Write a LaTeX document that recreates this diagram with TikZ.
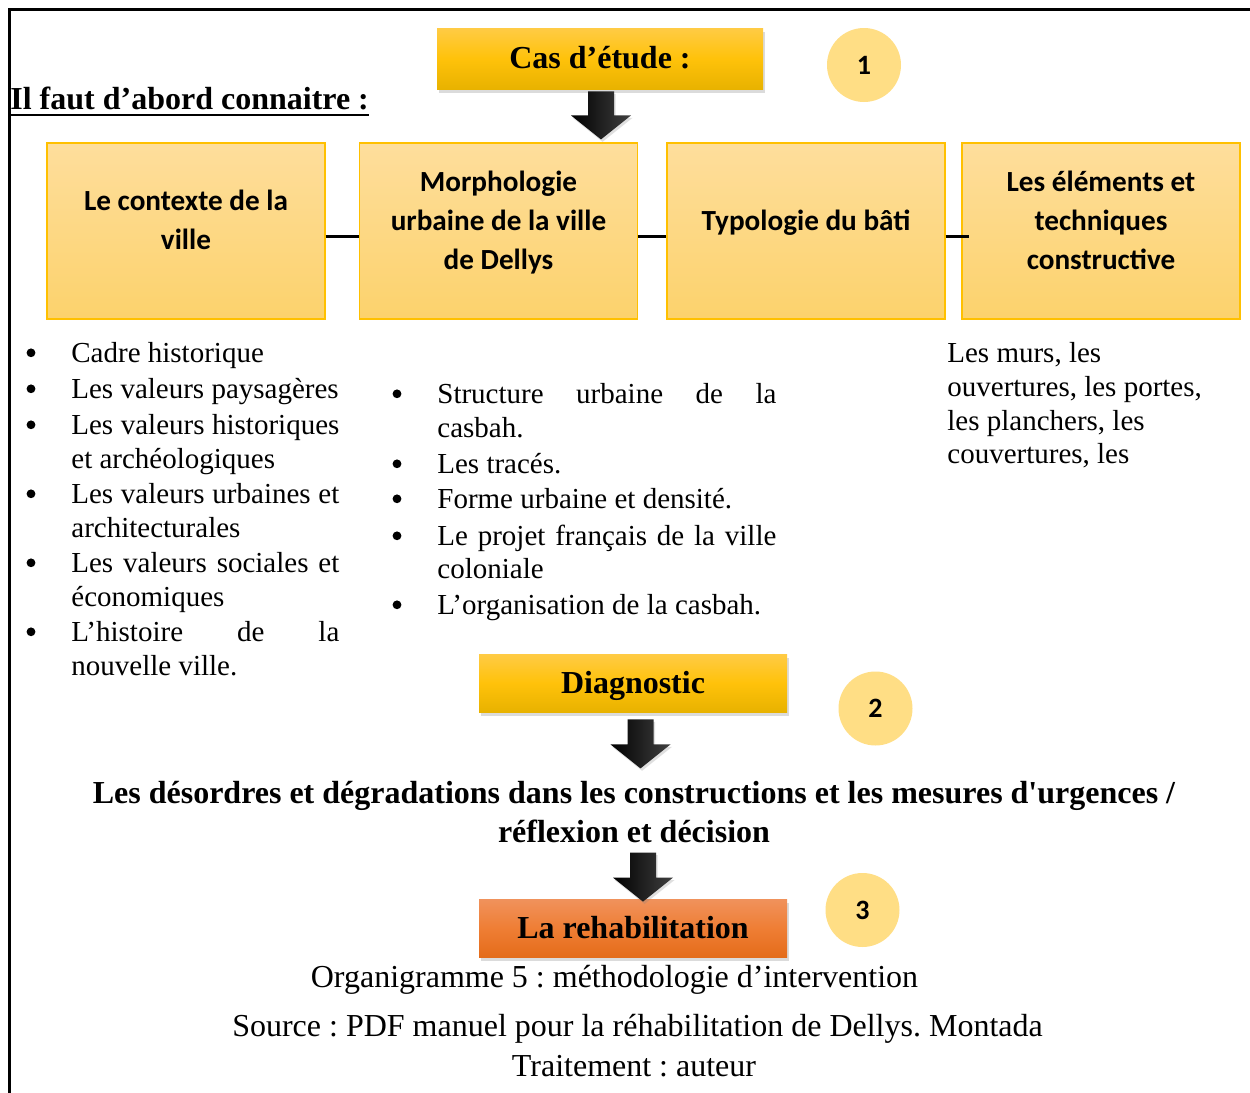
\documentclass[tikz,border=0pt]{standalone}
\usepackage{fontspec}
\setmainfont{Liberation Serif}
\newfontfamily\calib{Carlito}
\usetikzlibrary{calc,shadows}
\frenchspacing
\definecolor{ytop}{HTML}{FFCB45}
\definecolor{ymid}{HTML}{FFC20A}
\definecolor{ybot}{HTML}{E8B200}
\definecolor{otop}{HTML}{F0925C}
\definecolor{omid}{HTML}{EF7E35}
\definecolor{obot}{HTML}{E46C1A}
\definecolor{cattop}{HTML}{FEDE9C}
\definecolor{catbot}{HTML}{FCD26C}
\definecolor{catedge}{HTML}{FFC000}
\definecolor{numfill}{HTML}{FFDE85}
\newcommand\myul[1]{\setbox0\hbox{#1}\rlap{\rule[-3.5pt]{\wd0}{1.1pt}}\box0}
\newcommand\blockarrow[2]{%
  \path[arrowsh] let \p1=(#1), \p2=(#2) in
  (\x1-6.5pt,\y1) -- (\x1+6.5pt,\y1) -- (\x1+6.5pt,\y2+12pt) -- (\x1+15pt,\y2+12pt)
  -- (\x1,\y2) -- (\x1-15pt,\y2+12pt) -- (\x1-6.5pt,\y2+12pt) -- cycle;}
\begin{document}
\begin{tikzpicture}[x=0.5pt,y=-0.5pt,
  frameline/.style={line width=1.5pt},
  topbox/.style={minimum width=154pt, minimum height=29pt, inner sep=0pt,
    text height=13pt, text depth=3pt,
    top color=ytop, bottom color=ybot, middle color=ymid,
    font=\fontsize{16}{19}\selectfont\bfseries,
    drop shadow={shadow xshift=0.8pt, shadow yshift=-2.2pt, opacity=0.28}},
  orangebox/.style={topbox, top color=otop, bottom color=obot, middle color=omid},
  catbox/.style={minimum width=139pt, minimum height=88pt, inner sep=0pt,
    draw=catedge, line width=0.6pt, top color=cattop, bottom color=catbot},
  cattext/.style={font=\calib\bfseries\fontsize{14.6}{19.5}\selectfont, align=center, inner sep=0pt},
  numc/.style={circle, fill=numfill, minimum size=37pt, inner sep=0pt,
    font=\calib\bfseries\fontsize{14}{16}\selectfont},
  conn/.style={line width=1.5pt},
  txt/.style={anchor=base west, inner sep=0pt, font=\fontsize{14.5}{17}\selectfont},
  bul/.style={circle, fill=black, minimum size=4.4pt, inner sep=0pt, yshift=4.6pt},
  captxt/.style={anchor=base, inner sep=0pt, font=\fontsize{16}{19}\selectfont},
  arrowsh/.style={left color=black, right color=black!75,
    drop shadow={shadow xshift=0.8pt, shadow yshift=-1.2pt, opacity=0.25}}
]
\useasboundingbox (0,0) rectangle (1250,1093);
\fill[white] (0,0) rectangle (1250,1093);
% frame
\draw[frameline] (1250,9) -- (9,9) -- (9,1093);

% heading
\node[anchor=base west, inner sep=0pt, font=\fontsize{16}{19}\selectfont\bfseries] (head) at (10,109)
  {\myul{Il faut d’abord connaitre :}};

% step 1
\node[topbox, minimum width=163pt, minimum height=30.5pt] (cas) at (600,58.5) {Cas d’étude :};
\node[numc] (n1) at (864,65) {1};

% category boxes
\node[catbox] (box1) at (186,231) {};
\node[catbox] (box2) at (498.5,231) {};
\node[catbox] (box3) at (806,231) {};
\node[catbox] (box4) at (1101,231) {};
\node[cattext] (box1t) at ($(box1.center)+(0,-11)$) {Le contexte de la\\ville};
\node[cattext] (box2t) at ($(box2.center)+(0,-8)$) {Morphologie\\urbaine de la ville\\de Dellys};
\node[cattext] (box3t) at ($(box3.center)+(0,-8)$) {Typologie du bâti};
\node[cattext] (box4t) at ($(box4.center)+(0,-11)$) {Les éléments et\\techniques\\constructive};
\draw[conn] ([yshift=-2.5pt]box1.east) -- ([yshift=-2.5pt]box2.west);
\draw[conn] ([yshift=-2.5pt]box2.east) -- ([yshift=-2.5pt]box3.west);
\draw[conn] ([yshift=-2.5pt]box3.east) -- ([xshift=4pt,yshift=-2.5pt]box4.west);

\coordinate (a1s) at ($(cas.south)+(1,2)$);
\coordinate (a1e) at ($(cas.south |- box2.north)+(1,-3)$);
\blockarrow{a1s}{a1e}

% left list
\node[bul] (lb1) at (31,362) {};
\node[txt] (l1) at (71,362) {Cadre historique};
\node[bul] (lb2) at (31,398) {};
\node[txt] (l2) at (71,398) {Les valeurs paysagères};
\node[bul] (lb3) at (31,434) {};
\node[txt] (l3) at (71,434) {\makebox[134pt][s]{Les valeurs historiques}};
\node[txt] (l3b) at (71,468) {et archéologiques};
\node[bul] (lb4) at (31,503) {};
\node[txt] (l4) at (71,503) {\makebox[134pt][s]{Les valeurs urbaines et}};
\node[txt] (l4b) at (71,537) {architecturales};
\node[bul] (lb5) at (31,572) {};
\node[txt] (l5) at (71,572) {\makebox[134pt][s]{Les valeurs sociales et}};
\node[txt] (l5b) at (71,606) {économiques};
\node[bul] (lb6) at (31,641) {};
\node[txt] (l6) at (71,641) {\makebox[134pt][s]{L’histoire de la}};
\node[txt] (l6b) at (71,675) {nouvelle ville.};

% middle list
\node[bul] (mb1) at (397,403) {};
\node[txt] (m1) at (437,403) {\makebox[169.5pt][s]{Structure urbaine de la}};
\node[txt] (m1b) at (437,437) {casbah.};
\node[bul] (mb2) at (397,473) {};
\node[txt] (m2) at (437,473) {Les tracés.};
\node[bul] (mb3) at (397,508) {};
\node[txt] (m3) at (437,508) {Forme urbaine et densité.};
\node[bul] (mb4) at (397,545) {};
\node[txt] (m4) at (437,545) {\makebox[169.5pt][s]{Le projet français de la ville}};
\node[txt] (m4b) at (437,578) {coloniale};
\node[bul] (mb5) at (397,614) {};
\node[txt] (m5) at (437,614) {L’organisation de la casbah.};

% right text
\node[txt] (r1) at (947,362) {Les murs, les};
\node[txt] (r2) at (947,396) {ouvertures, les portes,};
\node[txt] (r3) at (947,430) {les planchers, les};
\node[txt] (r4) at (947,463) {couvertures, les};

% step 2
\node[topbox] (diag) at (633,683) {Diagnostic};
\node[numc] (n2) at (875.5,708.5) {2};
\node[captxt, font=\fontsize{16}{19.5}\selectfont\bfseries, align=center, anchor=center] (des) at (634,812)
  {Les désordres et dégradations dans les constructions et les mesures d{\addfontfeature{Ligatures=TeXOff}'}urgences /\\réflexion et décision};
\coordinate (a2s) at ($(diag.south)+(7.5,7)$);
\coordinate (a2e) at ($(diag.south)+(7.5,56)$);
\blockarrow{a2s}{a2e}

% step 3
\node[orangebox] (rehab) at (633,928) {La rehabilitation};
\node[numc] (n3) at (862.5,910) {3};
\coordinate (a3s) at ($(rehab.north)+(10,-46)$);
\coordinate (a3e) at ($(rehab.north)+(10,3)$);
\blockarrow{a3s}{a3e}

% captions
\node[captxt] (c1) at (614.5,987) {Organigramme 5 : méthodologie d’intervention};
\node[captxt] (c2) at (637.5,1036) {Source : PDF manuel pour la réhabilitation de Dellys. Montada};
\node[captxt] (c3) at (634,1076) {Traitement : auteur};
\end{tikzpicture}
\end{document}
